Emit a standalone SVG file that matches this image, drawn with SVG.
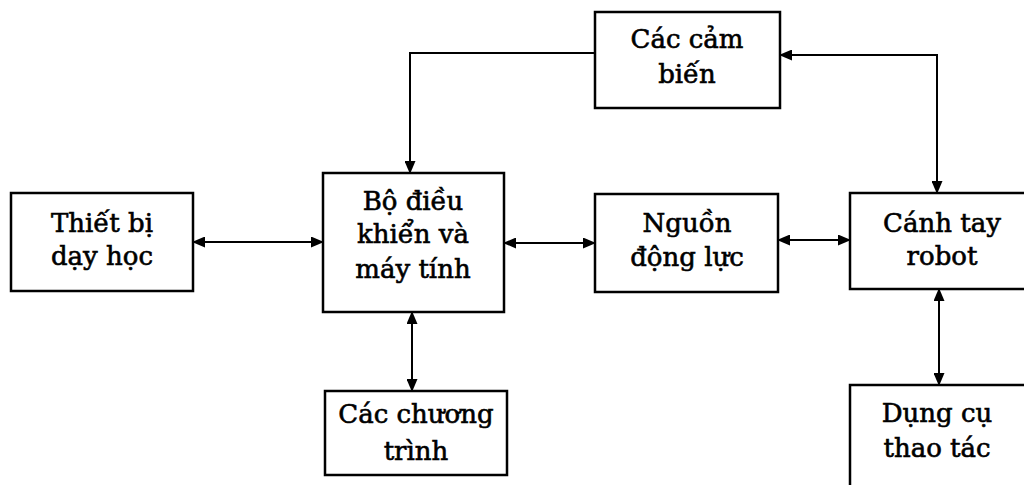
<svg xmlns="http://www.w3.org/2000/svg" width="1024" height="485" viewBox="0 0 1024 485">
<defs>
<marker id="ah" markerUnits="userSpaceOnUse" markerWidth="13" markerHeight="11" refX="12" refY="5.5" orient="auto-start-reverse">
<path d="M0,0 L13,5.5 L0,11 Z" fill="#000"/>
</marker>
<style>
.box{fill:#fff;stroke:#000;stroke-width:2.5}
.lbl{font-family:'DejaVu Serif',serif;font-size:26px;fill:#000;text-anchor:middle;stroke:#000;stroke-width:0.6}
.con{fill:none;stroke:#000;stroke-width:2}
</style>
</defs>
<rect width="1024" height="485" fill="#fff"/>
<g id="connectors">
<path class="con" d="M595,53 H410 V173" marker-end="url(#ah)"/>
<path class="con" d="M780,55 H937 V193" marker-start="url(#ah)" marker-end="url(#ah)"/>
<path class="con" d="M193,242 H323" marker-start="url(#ah)" marker-end="url(#ah)"/>
<path class="con" d="M504,243 H595" marker-start="url(#ah)" marker-end="url(#ah)"/>
<path class="con" d="M778,240 H850" marker-start="url(#ah)" marker-end="url(#ah)"/>
<path class="con" d="M412,312 V391" marker-start="url(#ah)" marker-end="url(#ah)"/>
<path class="con" d="M939,289 V385" marker-start="url(#ah)" marker-end="url(#ah)"/>
</g>
<g id="sensors">
<rect class="box" x="595" y="12" width="185" height="96"/>
<text class="lbl" x="687" y="48">Các cảm</text>
<text class="lbl" x="687" y="83">biến</text>
</g>
<g id="teach">
<rect class="box" x="11" y="193" width="182" height="98"/>
<text class="lbl" x="102" y="232">Thiết bị</text>
<text class="lbl" x="102" y="265">dạy học</text>
</g>
<g id="controller">
<rect class="box" x="323" y="173" width="181" height="139"/>
<text class="lbl" x="413" y="210">Bộ điều</text>
<text class="lbl" x="413" y="243">khiển và</text>
<text class="lbl" x="413" y="278">máy tính</text>
</g>
<g id="power">
<rect class="box" x="595" y="194" width="183" height="98"/>
<text class="lbl" x="687" y="232">Nguồn</text>
<text class="lbl" x="687" y="266">động lực</text>
</g>
<g id="arm">
<rect class="box" x="850" y="193" width="190" height="96"/>
<text class="lbl" x="942" y="232">Cánh tay</text>
<text class="lbl" x="942" y="265">robot</text>
</g>
<g id="programs">
<rect class="box" x="325" y="391" width="182" height="84"/>
<text class="lbl" x="416" y="423">Các chương</text>
<text class="lbl" x="416" y="460">trình</text>
</g>
<g id="tool">
<rect class="box" x="850" y="385" width="190" height="110"/>
<text class="lbl" x="937" y="422">Dụng cụ</text>
<text class="lbl" x="937" y="457">thao tác</text>
</g>
</svg>
